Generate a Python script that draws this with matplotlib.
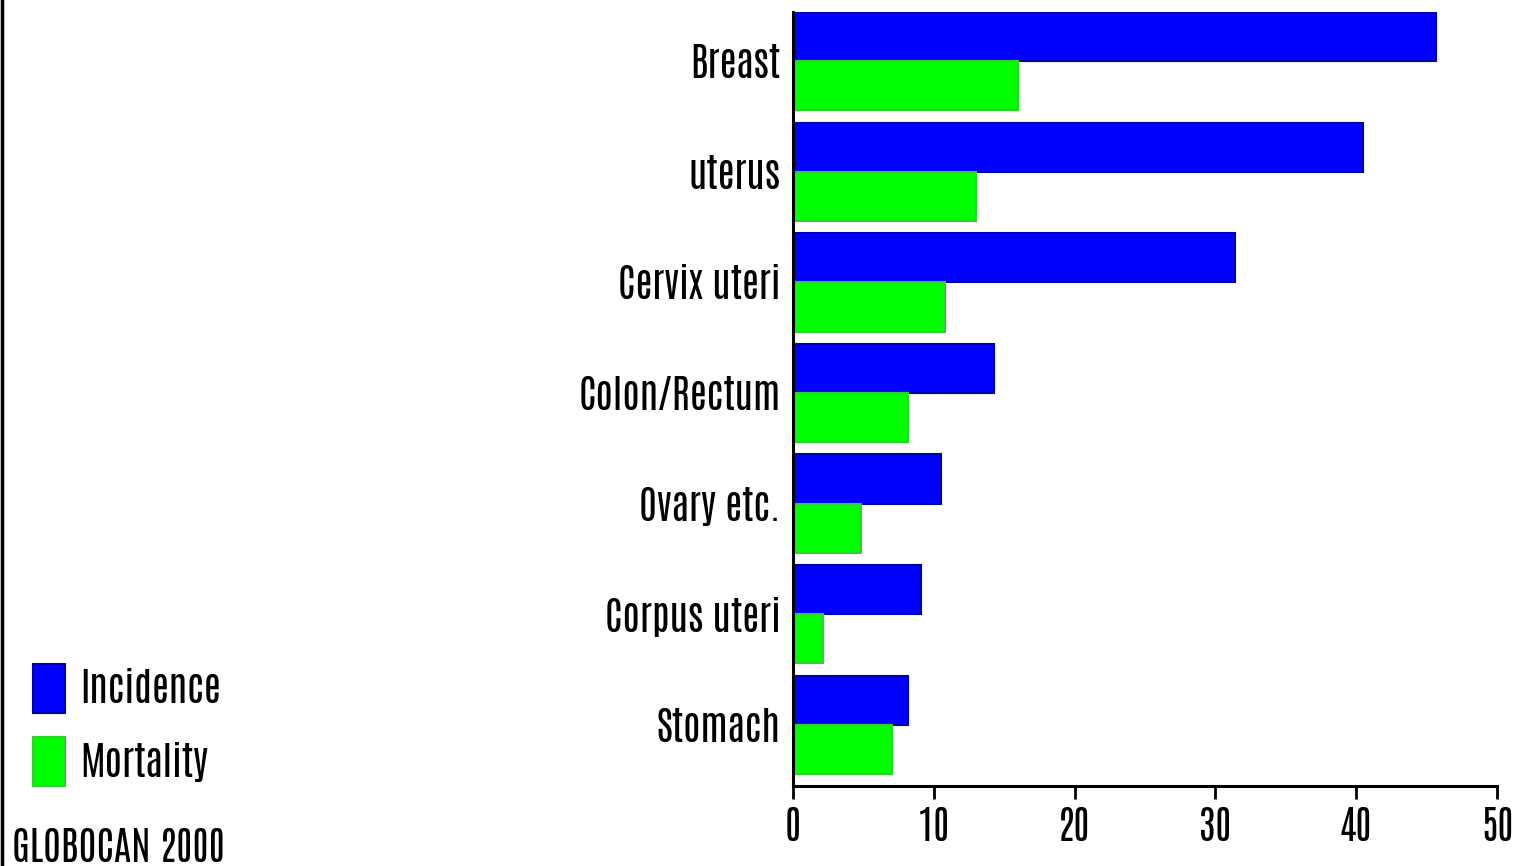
import matplotlib
matplotlib.use("Agg")
import matplotlib.pyplot as plt
from matplotlib.patches import Rectangle
from matplotlib.lines import Line2D

categories = ["Breast", "uterus", "Cervix uteri", "Colon/Rectum", "Ovary etc.", "Corpus uteri", "Stomach"]
incidence = [45.7, 40.5, 31.4, 14.3, 10.5, 9.1, 8.2]
mortality = [16.0, 13.0, 10.8, 8.2, 4.8, 2.1, 7.0]
xticks = [0, 10, 20, 30, 40, 50]
legend_labels = ["Incidence", "Mortality"]
source_text = "GLOBOCAN 2000"

FONT = ["Antonio", "Barlow Condensed", "DejaVu Sans"]
plt.rcParams["font.family"] = FONT
plt.rcParams["font.weight"] = "light"
FS = 28

fig = plt.figure(figsize=(15.14, 8.66), dpi=100)
ax = fig.add_axes([793/1514, 1-786/866, (1497-793)/1514, (786-12)/866])

h = 0.445
blue, blue_edge = "#0000ff", "#0000a8"
green, green_edge = "#00ff00", "#30d030"
ys = list(range(len(categories)))
ax.barh([y - h/2 for y in ys], incidence, height=h, color=blue, edgecolor=blue_edge, linewidth=1.5)
ax.barh([y + h/2 for y in ys], mortality, height=h, color=green, edgecolor=green_edge, linewidth=1.5)

ax.set_ylim(6.553, -0.445)
ax.set_xlim(0, 50)
ax.set_yticks(ys)
ax.set_yticklabels(categories, fontsize=FS)
ax.set_xticks(xticks)
ax.set_xticklabels([str(t) for t in xticks], fontsize=FS)
ax.tick_params(axis="y", length=0, pad=9)
ax.tick_params(axis="x", length=9, width=2, pad=6, direction="out")
for s in ["top", "right"]:
    ax.spines[s].set_visible(False)
for s in ["left", "bottom"]:
    ax.spines[s].set_linewidth(2.2)
    ax.spines[s].set_color("black")

# legend
W, H = 1514, 866
for (y0, y1), col, ec, lab in [((664, 713), blue, blue_edge, legend_labels[0]),
                                ((737, 786), green, green_edge, legend_labels[1])]:
    fig.patches.append(Rectangle((33/W, 1-y1/H), 32/W, (y1-y0)/H, transform=fig.transFigure,
                                 facecolor=col, edgecolor=ec, linewidth=1.5))
    fig.text(80/W, 1-(y0+y1)/2/H, lab, fontsize=FS, va="center", ha="left")

fig.text(12/W, 1-848/H, source_text, fontsize=FS, va="center", ha="left")
fig.lines.append(Line2D([1.5/W, 1.5/W], [0, 1], transform=fig.transFigure, color="black", linewidth=2.5))

fig.savefig("out.png", dpi=100, facecolor="white")
